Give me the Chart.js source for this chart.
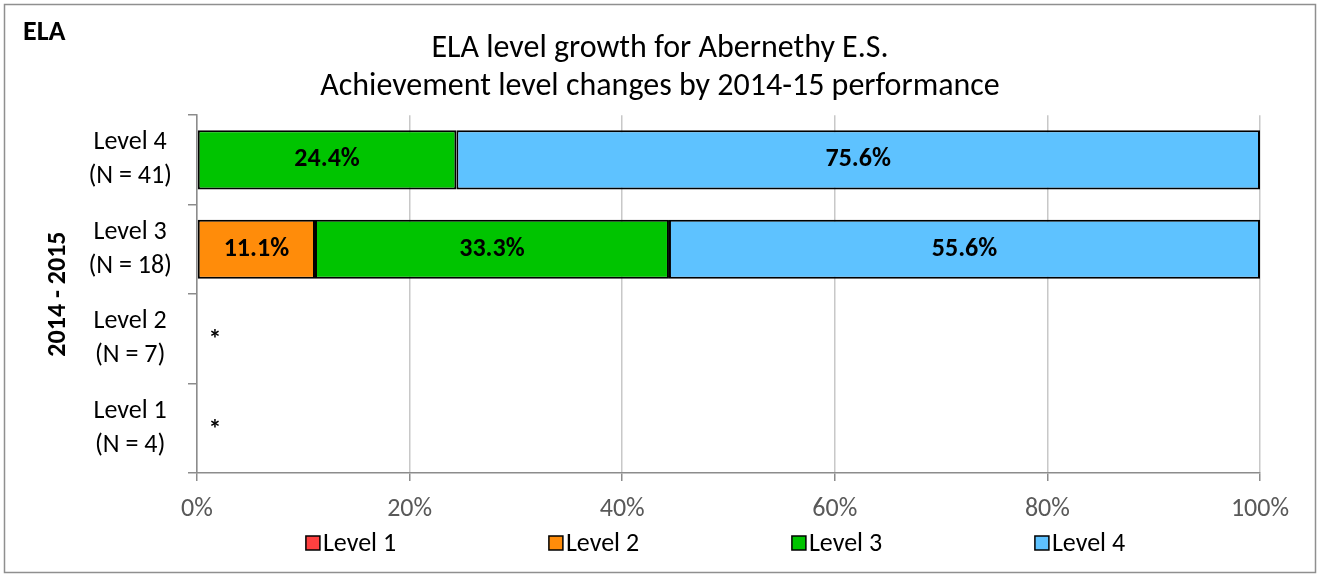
<!DOCTYPE html>
<html>
<head>
<meta charset="utf-8">
<title>ELA level growth</title>
<script src="https://cdn.jsdelivr.net/npm/chart.js@4.4.1/dist/chart.umd.min.js"></script>
<style>
  html, body { margin: 0; padding: 0; background: #fff; }
</style>
</head>
<body>
<canvas id="growthChart" width="1320" height="577"></canvas>
<script>
// rows: 2014-15 achievement level
const categories = [['Level 4', '(N = 41)'], ['Level 3', '(N = 18)'], ['Level 2', '(N = 7)'], ['Level 1', '(N = 4)']];
const seriesNames = ['Level 1', 'Level 2', 'Level 3', 'Level 4'];
// null = suppressed (small N)
const level1Values = [0, 0, null, null];
const level2Values = [0, 11.1, null, null];
const level3Values = [24.4, 33.3, null, null];
const level4Values = [75.6, 55.6, null, null];
const suppressedMarks = ['', '', '*', '*'];
const xTickValues = [0, 20, 40, 60, 80, 100];

const seriesColors = ['#FF4040', '#FF8C0A', '#00C400', '#5EC2FF'];
const FONT = 'Carlito, Lato, sans-serif';

Chart.defaults.font.family = FONT;
Chart.defaults.color = '#000';

// outer frame + "ELA" corner label
const framePlugin = {
  id: 'frame',
  beforeDraw(chart) {
    const ctx = chart.ctx;
    ctx.save();
    ctx.fillStyle = '#fff';
    ctx.fillRect(0, 0, chart.width, chart.height);
    ctx.strokeStyle = '#8f8f8f';
    ctx.lineWidth = 1.5;
    ctx.strokeRect(4.5, 4.5, chart.width - 9, chart.height - 9);
    ctx.fillStyle = '#000';
    ctx.font = 'bold 28px ' + FONT;
    ctx.textBaseline = 'middle';
    ctx.fillText('ELA', 23, 33);
    ctx.restore();
  }
};

// percentage labels inside segments, asterisks for suppressed rows
const barLabelPlugin = {
  id: 'barLabels',
  afterDatasetsDraw(chart) {
    const ctx = chart.ctx;
    ctx.save();
    ctx.font = 'bold 26px ' + FONT;
    ctx.fillStyle = '#000';
    ctx.textAlign = 'center';
    ctx.textBaseline = 'middle';
    chart.data.datasets.forEach((ds, di) => {
      chart.getDatasetMeta(di).data.forEach((bar, i) => {
        const v = ds.data[i];
        if (v == null || v <= 0) return;
        ctx.fillText(v.toFixed(1) + '%', (bar.x + bar.base) / 2, bar.y);
      });
    });
    const xs = chart.scales.x, ys = chart.scales.y;
    suppressedMarks.forEach((m, i) => {
      if (!m) return;
      ctx.fillText(m, xs.getPixelForValue(0) + 18, ys.getPixelForValue(i) + 3);
    });
    ctx.restore();
  }
};

// legend with wide spacing like the original
const spacedLegendPlugin = {
  id: 'spacedLegend',
  afterDraw(chart) {
    const ctx = chart.ctx;
    const area = chart.chartArea;
    const step = 243, box = 14, gap = 3;
    ctx.save();
    ctx.font = '26px ' + FONT;
    ctx.textBaseline = 'middle';
    const lastW = ctx.measureText(seriesNames[seriesNames.length - 1]).width;
    const total = step * (seriesNames.length - 1) + box + gap + lastW;
    let x = (area.left + area.right) / 2 - 13 - total / 2;
    const y = 543;
    chart.data.datasets.forEach(ds => {
      ctx.fillStyle = ds.backgroundColor;
      ctx.fillRect(x, y - box / 2, box, box);
      ctx.strokeStyle = '#000';
      ctx.lineWidth = 1.5;
      ctx.strokeRect(x, y - box / 2, box, box);
      ctx.fillStyle = '#000';
      ctx.fillText(ds.label, x + box + gap, y + 1);
      x += step;
    });
    ctx.restore();
  }
};

const valueSets = [level1Values, level2Values, level3Values, level4Values];

new Chart(document.getElementById('growthChart'), {
  type: 'bar',
  data: {
    labels: categories,
    datasets: seriesNames.map((name, i) => ({
      label: name,
      data: valueSets[i],
      backgroundColor: seriesColors[i],
      borderColor: '#000',
      borderWidth: 2,
      borderSkipped: false,
      categoryPercentage: 1,
      barPercentage: 0.66
    }))
  },
  options: {
    indexAxis: 'y',
    responsive: false,
    animation: false,
    // equal side padding keeps the title centred on the whole canvas
    layout: { padding: { top: 10, right: 60, bottom: 52, left: 60 } },
    plugins: {
      legend: { display: false },
      tooltip: { enabled: false },
      title: {
        display: true,
        text: ['ELA level growth for Abernethy E.S.', 'Achievement level changes by 2014-15 performance'],
        font: { size: 32, weight: 'normal', lineHeight: 1.19 },
        color: '#000',
        padding: { top: 20, bottom: 9 }
      }
    },
    scales: {
      x: {
        stacked: true,
        min: 0,
        max: 100,
        afterBuildTicks(scale) { scale.ticks = xTickValues.map(v => ({ value: v })); },
        afterFit(scale) { scale.height = 52; },
        ticks: {
          callback: v => v + '%',
          color: '#595959',
          font: { size: 26 },
          padding: 13
        },
        grid: { color: '#c8c8c8', lineWidth: 1.5, tickLength: 8, tickColor: '#8c8c8c' },
        border: { color: '#8c8c8c', width: 1.5 }
      },
      y: {
        stacked: true,
        afterFit(scale) { scale.width = 137; },
        ticks: {
          crossAlign: 'center',
          color: '#000',
          font: { size: 26, lineHeight: 1.31 },
          padding: 16
        },
        grid: { drawOnChartArea: false, tickLength: 9, color: '#8c8c8c', lineWidth: 1.5, offset: true },
        border: { color: '#8c8c8c', width: 1.5 },
        title: {
          display: true,
          text: '2014 - 2015',
          font: { size: 26, weight: 'bold' },
          color: '#000',
          padding: { top: -17, bottom: 0 }
        }
      }
    }
  },
  plugins: [framePlugin, barLabelPlugin, spacedLegendPlugin]
});
</script>
</body>
</html>
